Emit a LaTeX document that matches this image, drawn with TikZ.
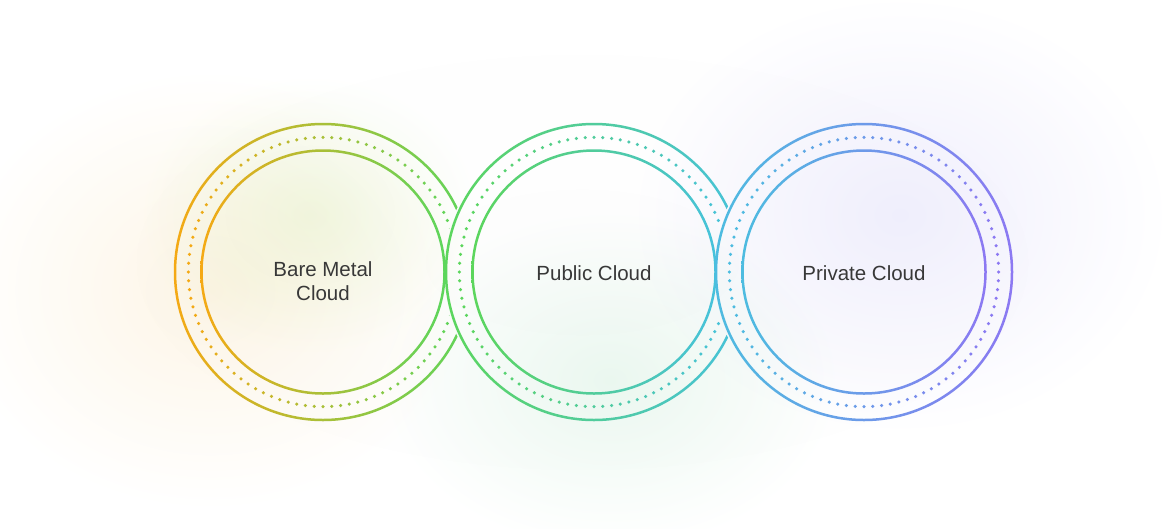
\documentclass[tikz,border=0pt]{standalone}
\usepackage{fontspec}
\setmainfont{Liberation Sans}

\definecolor{bmL}{HTML}{F5A914}
\definecolor{bmR}{HTML}{5CD65C}
\definecolor{pubL}{HTML}{5CD65C}
\definecolor{pubR}{HTML}{46C2DC}
\definecolor{prvL}{HTML}{4DBCE0}
\definecolor{prvR}{HTML}{8C78F2}
\definecolor{txtgray}{HTML}{383838}
\definecolor{glowO}{HTML}{FDF5E6}
\definecolor{glowY}{HTML}{F2FAE8}
\definecolor{glowG}{HTML}{EBF8F0}
\definecolor{glowB}{HTML}{F0EFFD}

\tikzset{
  cloud label/.style={font=\fontsize{20.5}{23.5}\selectfont, text=txtgray,
    align=center, inner sep=0pt},
  glow/.style={outer color=white},
}

% solid ring: centre, radius, left colour, right colour
\newcommand\solidring[4]{%
  \shade[left color=#3, right color=#4]
    (#1) circle[radius=#2+1.25]
    (#1) ++(#2-1.25,0) arc[start angle=0, end angle=-360, radius=#2-1.25];
}
% dotted ring: centre, radius, left colour, right colour
\newcommand\dotring[4]{%
  \foreach \a in {0,3.75,...,357}{
    \pgfmathsetmacro\p{50*(1+cos(\a))}
    \fill[#4!\p!#3] (#1) ++(\a:#2) circle[radius=1.75];
  }
}
% everything outside a disc
\newcommand\outside[2]{%
  \clip (-20,-20) -- (1184,-20) -- (1184,548) -- (-20,548) -- cycle
    (#1) ++(#2,0) arc[start angle=0, end angle=-360, radius=#2];
}

\begin{document}
\begin{tikzpicture}[x=1pt, y=-1pt]
\useasboundingbox (0,0) rectangle (1164,528);
\fill[white] (0,0) rectangle (1164,528);

\coordinate (bm) at (323,272);
\coordinate (pub) at (594,272);
\coordinate (prv) at (864,272);

% background glows
\begin{scope}[blend mode=multiply]
\shade[glow, inner color=black!0.8] (582,262) ellipse[x radius=590, y radius=275];
\shade[glow, inner color=glowO] (210,290) ellipse[x radius=260, y radius=220];
\shade[glow, inner color=glowY] (310,215) ellipse[x radius=170, y radius=140];
\shade[glow, inner color=glowG] (610,380) ellipse[x radius=230, y radius=170];
\shade[glow, inner color=glowB] (900,215) ellipse[x radius=270, y radius=220];
\end{scope}

% bare metal
\begin{scope}
\outside{pub}{151}
\solidring{bm}{148}{bmL}{bmR}
\dotring{bm}{134.7}{bmL}{bmR}
\end{scope}
\solidring{bm}{121.5}{bmL}{bmR}

% public
\begin{scope}
\outside{prv}{151}
\solidring{pub}{148}{pubL}{pubR}
\dotring{pub}{134.7}{pubL}{pubR}
\end{scope}
\solidring{pub}{121.5}{pubL}{pubR}

% private
\solidring{prv}{148}{prvL}{prvR}
\dotring{prv}{134.7}{prvL}{prvR}
\solidring{prv}{121.5}{prvL}{prvR}

\node[cloud label] (bmtxt) at (323,281) {Bare Metal\\Cloud};
\node[cloud label, anchor=base] (pubtxt) at (594,280) {Public Cloud};
\node[cloud label, anchor=base] (prvtxt) at (864,280) {Private Cloud};
\end{tikzpicture}
\end{document}
